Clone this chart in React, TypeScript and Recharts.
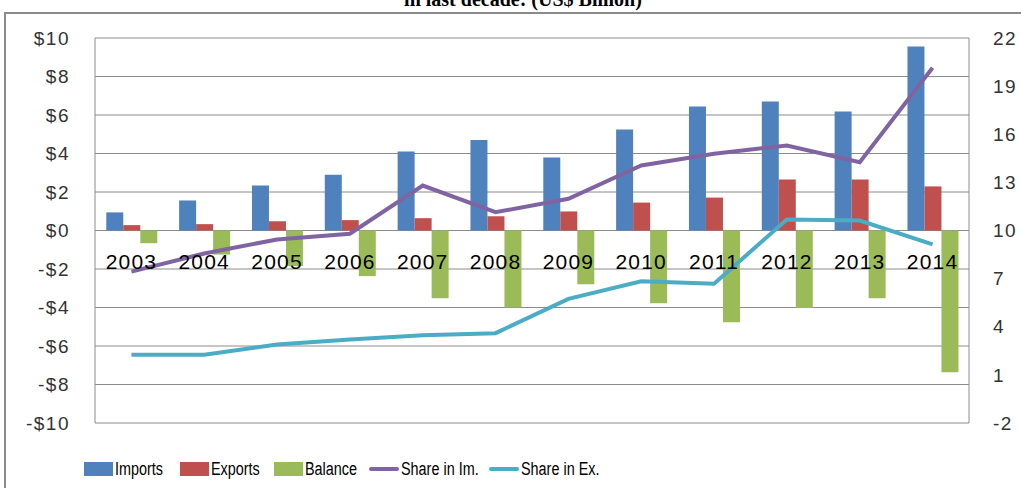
import React from 'react'
import { ComposedChart, Bar, Line, XAxis, YAxis, CartesianGrid } from 'recharts'

const years = ['2003', '2004', '2005', '2006', '2007', '2008', '2009', '2010', '2011', '2012', '2013', '2014']
const imports = [0.94, 1.56, 2.34, 2.9, 4.1, 4.7, 3.79, 5.25, 6.44, 6.7, 6.18, 9.56]
const exportsUS = [0.28, 0.33, 0.48, 0.54, 0.64, 0.74, 0.99, 1.45, 1.71, 2.65, 2.65, 2.29]
const balance = [-0.66, -1.25, -1.85, -2.37, -3.52, -4.0, -2.79, -3.78, -4.76, -4.02, -3.52, -7.36]
const shareIm = [7.44, 8.57, 9.44, 9.8, 12.8, 11.14, 11.98, 14.05, 14.78, 15.3, 14.26, 20.14]
const shareEx = [2.25, 2.25, 2.9, 3.2, 3.47, 3.6, 5.74, 6.84, 6.68, 10.69, 10.62, 9.13]

const leftTicks = [-10, -8, -6, -4, -2, 0, 2, 4, 6, 8, 10]
const rightTicks = [-2, 1, 4, 7, 10, 13, 16, 19, 22]

const data = years.map((year, i) => ({
  year,
  imports: imports[i],
  exports: exportsUS[i],
  balance: balance[i],
  shareIm: shareIm[i],
  shareEx: shareEx[i],
}))

const W = 1021
const H = 488
const TOP = 38
const BOTTOM = 64
const PLOT_H = H - TOP - BOTTOM - 1
const ZERO_Y = TOP + PLOT_H / 2

const tickFont = "'Liberation Sans', Arial, sans-serif"

const money = (v: number) => (v < 0 ? `-$${Math.abs(v)}` : `$${v}`)

const renderYear = (props: any) => {
  const { x, payload } = props
  return (
    <text x={x} y={ZERO_Y + 38} textAnchor="middle" fontFamily={tickFont} fontSize={21} letterSpacing={1.2} fill="#000">
      {payload.value}
    </text>
  )
}

// legend entries, left edge of each swatch
const legendItems = [
  { label: 'Imports', color: '#4F81BD', kind: 'box', left: 84 },
  { label: 'Exports', color: '#C0504D', kind: 'box', left: 180 },
  { label: 'Balance', color: '#9BBB59', kind: 'box', left: 274 },
  { label: 'Share in Im.', color: '#8064A2', kind: 'line', left: 369 },
  { label: 'Share in Ex.', color: '#4BACC6', kind: 'line', left: 489 },
]

export default function App() {
  return (
    <div style={{ position: 'absolute', left: 0, top: 0, width: W, height: H, overflow: 'hidden', background: '#fff' }}>
      <svg width={W} height={H} style={{ position: 'absolute', left: 0, top: 0 }}>
        <rect x={5} y={13} width={1040} height={500} fill="none" stroke="#8a8a8a" strokeWidth={2} />
        <text x={523} y={6} textAnchor="middle" fontFamily="'Liberation Serif', 'Times New Roman', serif" fontWeight="bold" fontSize={20} fill="#000">
          in last decade: (US$ Billion)
        </text>
      </svg>
      <div style={{ position: 'absolute', left: 0, top: 0 }}>
        <ComposedChart
          width={W}
          height={H}
          data={data}
          margin={{ top: TOP, right: 0, bottom: BOTTOM, left: 0 }}
          barCategoryGap="15.5%"
          barGap={0}
        >
          <CartesianGrid vertical={false} stroke="#8c8c8c" yAxisId="left" />
          <Bar yAxisId="left" dataKey="imports" fill="#4F81BD" isAnimationActive={false} />
          <Bar yAxisId="left" dataKey="exports" fill="#C0504D" isAnimationActive={false} />
          <Bar yAxisId="left" dataKey="balance" fill="#9BBB59" isAnimationActive={false} />
          <XAxis dataKey="year" height={1} axisLine={false} tickLine={false} tick={renderYear} interval={0} />
          <YAxis
            yAxisId="left"
            width={95}
            domain={[-10, 10]}
            ticks={leftTicks}
            tickFormatter={money}
            axisLine={{ stroke: '#8c8c8c' }}
            tickLine={false}
            tickSize={0}
            tickMargin={25}
            tick={{ fontFamily: tickFont, fontSize: 19, fill: '#333', letterSpacing: 1.5 }}
          />
          <YAxis
            yAxisId="right"
            orientation="right"
            width={52}
            domain={[-2, 22]}
            ticks={rightTicks}
            axisLine={{ stroke: '#8c8c8c' }}
            tickLine={false}
            tickSize={0}
            tickMargin={24}
            tick={{ fontFamily: tickFont, fontSize: 19, fill: '#333', letterSpacing: 1.5, textAnchor: 'start' }}
          />
          <Line yAxisId="right" type="linear" dataKey="shareIm" stroke="#8064A2" strokeWidth={4} dot={false} isAnimationActive={false} />
          <Line yAxisId="right" type="linear" dataKey="shareEx" stroke="#4BACC6" strokeWidth={4} dot={false} isAnimationActive={false} />
        </ComposedChart>
      </div>
      {legendItems.map((item) => (
        <div
          key={item.label}
          style={{
            position: 'absolute',
            left: item.left,
            top: 458,
            height: 22,
            display: 'flex',
            alignItems: 'center',
            gap: 2,
            fontFamily: tickFont,
            fontSize: 18,
            color: '#000',
            whiteSpace: 'nowrap',
          }}
        >
          {item.kind === 'box' ? (
            <span style={{ display: 'inline-block', width: 29, height: 14, background: item.color }} />
          ) : (
            <span style={{ display: 'inline-block', width: 30, height: 4, background: item.color, borderRadius: 2 }} />
          )}
          <span style={{ display: 'inline-block', transform: 'scaleX(0.8)', transformOrigin: 'left center' }}>{item.label}</span>
        </div>
      ))}
    </div>
  )
}
